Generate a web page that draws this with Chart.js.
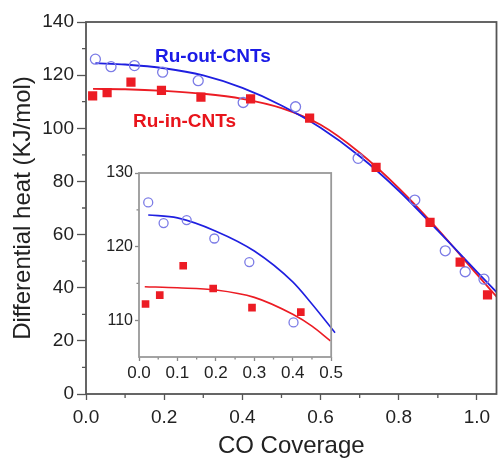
<!DOCTYPE html>
<html>
<head>
<meta charset="utf-8">
<script src="https://cdn.jsdelivr.net/npm/chart.js@4.4.1/dist/chart.umd.min.js"></script>
<style>
  html, body { margin: 0; padding: 0; background: #fff; }
  #wrap { position: relative; width: 503px; height: 458px; }
  #mainChart { position: absolute; left: 0; top: 0; }
  #insetChart { position: absolute; left: 95px; top: 160px; }
</style>
</head>
<body>
<div id="wrap">
  <canvas id="mainChart" width="503" height="458"></canvas>
  <canvas id="insetChart" width="250" height="225"></canvas>
</div>
<script>
// measured points
const outCov  = [0.024, 0.064, 0.124, 0.196, 0.287, 0.402, 0.536, 0.696, 0.841, 0.919, 0.970, 1.018];
const outHeat = [126.0, 123.2, 123.6, 121.1, 117.9, 109.7, 108.1, 88.7, 73.0, 53.9, 46.0, 43.2];
const inCov   = [0.017, 0.054, 0.115, 0.193, 0.294, 0.421, 0.572, 0.742, 0.880, 0.957, 1.027];
const inHeat  = [112.2, 113.4, 117.4, 114.3, 111.7, 111.1, 103.8, 85.3, 64.6, 49.6, 37.3];

// fitted curves, main panel
const outFitCov  = [0.024, 0.1, 0.2, 0.3, 0.4, 0.5, 0.6, 0.7, 0.8, 0.9, 1.0, 1.053];
const outFitHeat = [124.5, 124.0, 122.6, 119.9, 115.2, 108.6, 100.2, 89.5, 76.5, 61.5, 46.0, 37.9];
const inFitCov   = [0.018, 0.1, 0.2, 0.3, 0.4, 0.5, 0.6, 0.7, 0.8, 0.9, 1.0, 1.053];
const inFitHeat  = [114.8, 114.7, 114.1, 113.0, 111.1, 107.6, 101.3, 90.8, 77.5, 62.0, 45.0, 36.2];

// fitted curves, inset
const outInsetFitCov  = [0.024, 0.1, 0.2, 0.3, 0.4, 0.45, 0.51];
const outInsetFitHeat = [124.3, 123.9, 122.1, 119.4, 115.2, 112.2, 108.3];
const inInsetFitCov   = [0.015, 0.1, 0.2, 0.3, 0.4, 0.45, 0.498];
const inInsetFitHeat  = [114.55, 114.4, 114.1, 113.1, 110.8, 109.2, 107.2];

// ticks
const mainXMajor = [0, 0.2, 0.4, 0.6, 0.8, 1.0];
const mainXMinor = [0.1, 0.3, 0.5, 0.7, 0.9];
const mainYMajor = [0, 20, 40, 60, 80, 100, 120, 140];
const mainYMinor = [10, 30, 50, 70, 90, 110, 130];
const insetXMajor = [0, 0.1, 0.2, 0.3, 0.4, 0.5];
const insetXMinor = [0.05, 0.15, 0.25, 0.35, 0.45];
const insetYMajor = [110, 120, 130];
const insetYMinor = [115, 125];

const FONT = '"Liberation Sans", Arial, sans-serif';
const BLUE = '#1f1fe0';
const RED = '#ec1c24';

const pts = (xs, ys) => xs.map((x, i) => ({ x: x, y: ys[i] }));

function frameMinor(o) {
  return {
    id: 'frameMinor',
    afterDatasetsDraw(chart) {
      const { ctx, chartArea: a, scales: { x, y } } = chart;
      ctx.save();
      ctx.strokeStyle = o.tickColor;
      ctx.lineWidth = 1.3;
      ctx.beginPath();
      o.xMinor.forEach(v => {
        const px = x.getPixelForValue(v);
        ctx.moveTo(px, a.bottom); ctx.lineTo(px, a.bottom + o.minorLen);
      });
      o.yMinor.forEach(v => {
        const py = y.getPixelForValue(v);
        ctx.moveTo(a.left, py); ctx.lineTo(a.left - o.minorLen, py);
      });
      ctx.stroke();
      ctx.strokeStyle = o.frameColor;
      ctx.lineWidth = o.frameWidth;
      ctx.strokeRect(a.left, a.top, a.right - a.left, a.bottom - a.top);
      ctx.restore();
    }
  };
}

const seriesLabels = {
  id: 'seriesLabels',
  afterDraw(chart) {
    const ctx = chart.ctx;
    ctx.save();
    ctx.font = 'bold 19px ' + FONT;
    ctx.textBaseline = 'alphabetic';
    ctx.fillStyle = '#1a1ae6';
    ctx.fillText('Ru-out-CNTs', 155, 62);
    ctx.fillStyle = '#e8141b';
    ctx.fillText('Ru-in-CNTs', 133, 127);
    ctx.restore();
  }
};

function axis(o) {
  return {
    type: 'linear', min: o.min, max: o.max,
    afterFit: s => { if (o.width) s.width = o.width; if (o.height) s.height = o.height; },
    afterBuildTicks: s => { s.ticks = o.major.map(v => ({ value: v })); },
    ticks: {
      color: '#222', padding: o.pad,
      font: { family: FONT, size: o.size },
      callback: o.fmt
    },
    grid: { display: true, drawOnChartArea: false, drawTicks: true, tickLength: o.tick, color: o.tickColor, tickColor: o.tickColor, tickWidth: 1.3 },
    border: { display: false },
    title: o.title ? { display: true, text: o.title, color: '#222', font: { family: FONT, size: 24, lineHeight: 1 }, padding: o.titlePad } : { display: false }
  };
}

new Chart(document.getElementById('mainChart'), {
  type: 'scatter',
  data: {
    datasets: [
      { data: pts(inCov, inHeat), pointStyle: 'rect', pointRadius: 6.5, backgroundColor: RED, borderColor: RED, borderWidth: 0, order: 0 },
      { data: pts(outCov, outHeat), pointStyle: 'circle', pointRadius: 5, backgroundColor: 'rgba(0,0,0,0)', borderColor: '#7c7ce6', borderWidth: 1.3, order: 1 },
      { data: pts(outFitCov, outFitHeat), showLine: true, pointRadius: 0, borderColor: BLUE, borderWidth: 1.8, cubicInterpolationMode: 'monotone', order: 2 },
      { data: pts(inFitCov, inFitHeat), showLine: true, pointRadius: 0, borderColor: RED, borderWidth: 1.8, cubicInterpolationMode: 'monotone', order: 3 }
    ]
  },
  options: {
    responsive: false, animation: false, events: [],
    layout: { padding: { top: 22, right: 1, left: 0, bottom: 0 } },
    plugins: { legend: { display: false }, tooltip: { enabled: false } },
    scales: {
      x: axis({ min: 0, max: 1.05, height: 64, major: mainXMajor, pad: 6, size: 19, tick: 6, tickColor: '#555',
        fmt: v => v.toFixed(1), title: 'CO Coverage', titlePad: { top: 0, bottom: 0 } }),
      y: axis({ min: 0, max: 140, width: 86, major: mainYMajor, pad: 3, size: 19, tick: 9, tickColor: '#555',
        fmt: v => String(v), title: 'Differential heat (KJ/mol)', titlePad: { top: 11, bottom: 0 } })
    }
  },
  plugins: [frameMinor({ xMinor: mainXMinor, yMinor: mainYMinor, minorLen: 4, tickColor: '#555', frameColor: '#555', frameWidth: 1.8 }), seriesLabels]
});

new Chart(document.getElementById('insetChart'), {
  type: 'scatter',
  data: {
    datasets: [
      { data: pts(inCov, inHeat).filter(p => p.x <= 0.5), pointStyle: 'rect', pointRadius: 5.4, backgroundColor: RED, borderColor: RED, borderWidth: 0, order: 0 },
      { data: pts(outCov, outHeat).filter(p => p.x <= 0.5), pointStyle: 'circle', pointRadius: 4.5, backgroundColor: 'rgba(0,0,0,0)', borderColor: '#7c7ce6', borderWidth: 1.3, order: 1 },
      { data: pts(outInsetFitCov, outInsetFitHeat), showLine: true, pointRadius: 0, borderColor: BLUE, borderWidth: 1.6, cubicInterpolationMode: 'monotone', clip: false, order: 2 },
      { data: pts(inInsetFitCov, inInsetFitHeat), showLine: true, pointRadius: 0, borderColor: RED, borderWidth: 1.6, cubicInterpolationMode: 'monotone', order: 3 }
    ]
  },
  options: {
    responsive: false, animation: false, events: [],
    layout: { padding: { top: 13, right: 10, left: 0, bottom: 0 } },
    plugins: { legend: { display: false }, tooltip: { enabled: false } },
    scales: {
      x: axis({ min: 0, max: 0.5, height: 28, major: insetXMajor, pad: 2, size: 17, tick: 4, tickColor: '#888', fmt: v => v.toFixed(1) }),
      y: axis({ min: 105, max: 130, width: 44, major: insetYMajor, pad: 2, size: 16, tick: 4, tickColor: '#888', fmt: v => String(v) })
    }
  },
  plugins: [frameMinor({ xMinor: insetXMinor, yMinor: insetYMinor, minorLen: 2.5, tickColor: '#888', frameColor: '#999', frameWidth: 1.8 })]
});
</script>
</body>
</html>
